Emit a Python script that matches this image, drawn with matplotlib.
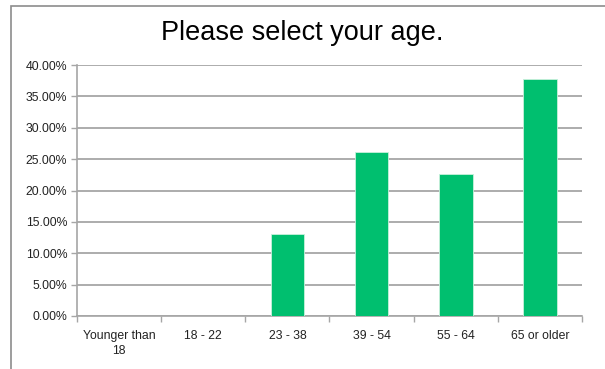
import matplotlib.pyplot as plt
from matplotlib.patches import Rectangle
from matplotlib.ticker import FuncFormatter, FixedLocator
import numpy as np

categories = ["Younger than\n18", "18 - 22", "23 - 38", "39 - 54", "55 - 64", "65 or older"]
values = [0.0, 0.0, 13.1, 26.2, 22.7, 37.8]

plt.rcParams['font.family'] = ['Liberation Sans', 'DejaVu Sans']

fig = plt.figure(figsize=(6.05, 3.69), dpi=100)
ax = fig.add_axes([77 / 605, 1 - 316 / 369, 505 / 605, 251 / 369])

# outer chart border (cropped on the right and bottom)
fig.patches.append(Rectangle((11 / 605, -0.1), 1.2, 1 - 6 / 369 + 0.1,
                             transform=fig.transFigure, fill=False,
                             edgecolor='#8c8c8c', linewidth=1.2))

x = np.arange(len(categories))
ax.bar(x, values, width=0.4, color='#00BF6F', edgecolor='#c8f0dc', linewidth=0.6, zorder=3)

ax.set_xlim(-0.5, len(categories) - 0.5)
ax.set_ylim(0, 40)
ax.set_yticks(np.arange(0, 41, 5))
ax.yaxis.set_major_formatter(FuncFormatter(lambda v, p: f"{v:.2f}%"))
ax.yaxis.grid(True, color='#a6a6a6', linewidth=1.3, zorder=0)
ax.set_axisbelow(True)

ax.set_xticks(x)
ax.set_xticklabels(categories, linespacing=1.3)
ax.xaxis.set_minor_locator(FixedLocator(np.arange(-0.5, len(categories), 1)))
ax.tick_params(axis='x', which='major', length=0, pad=10, labelsize=8.8, colors='#222222')
ax.tick_params(axis='x', which='minor', length=4, color='#a6a6a6', width=1)
ax.tick_params(axis='y', length=4, color='#a6a6a6', width=1, labelsize=8.8, labelcolor='#222222', pad=3)

for s in ['top', 'right']:
    ax.spines[s].set_visible(False)
for s in ['left', 'bottom']:
    ax.spines[s].set_color('#a6a6a6')
    ax.spines[s].set_linewidth(1.2)

fig.text(0.5, 1 - 33 / 369, "Please select your age.", ha='center', va='center', fontsize=19.5, color='black')

fig.savefig('out.png', dpi=100)
